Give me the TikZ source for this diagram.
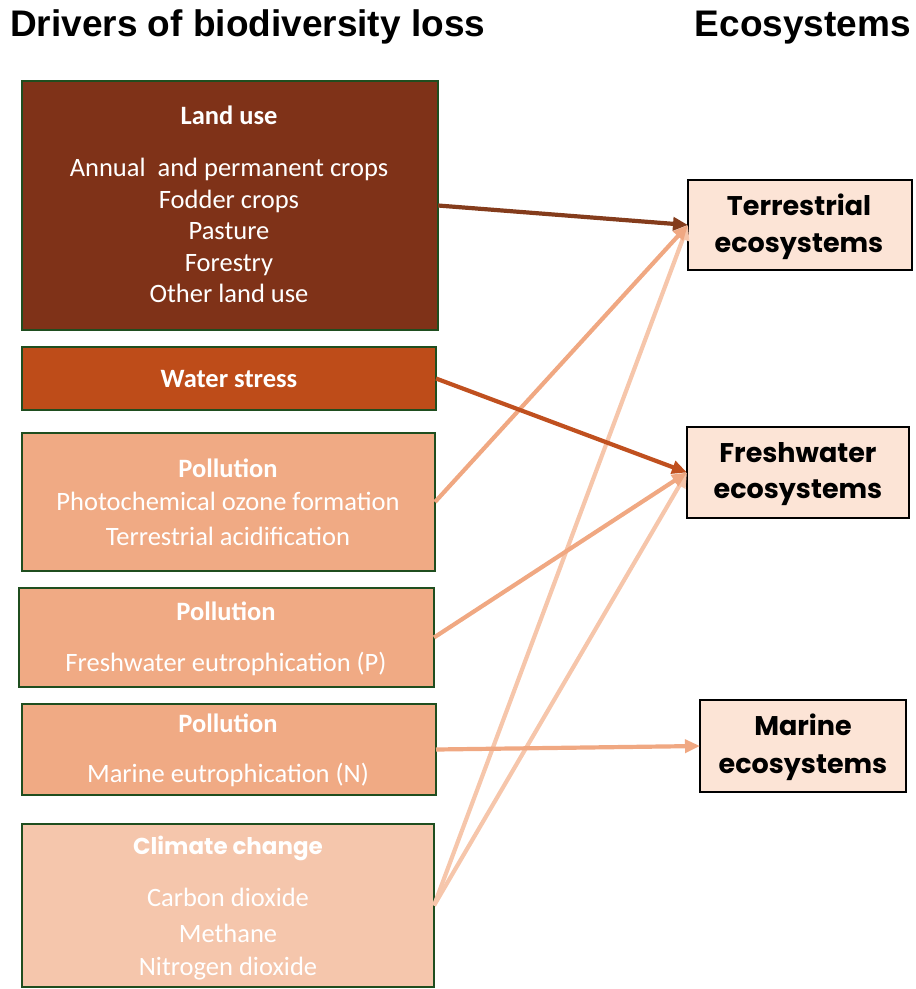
\documentclass[tikz,border=0pt]{standalone}
\usepackage{fontspec}
\setmainfont{Carlito}
\newfontfamily\headfont{Liberation Sans}
\newfontfamily\ecofont{Poppins}
\usetikzlibrary{arrows.meta}

\definecolor{landfill}{HTML}{7F3218}
\definecolor{waterfill}{HTML}{BE4C19}
\definecolor{pollfill}{HTML}{F0AA84}
\definecolor{climfill}{HTML}{F5C6AC}
\definecolor{ecofill}{HTML}{FCE4D6}
\definecolor{boxline}{HTML}{1F4E1F}
\definecolor{landarrow}{HTML}{843C1C}
\definecolor{waterarrow}{HTML}{C0501F}
\definecolor{pollarrow}{HTML}{F0A882}
\definecolor{climarrow}{HTML}{F6C6AB}

\begin{document}
\begin{tikzpicture}[x=1pt,y=-1pt,
  driver/.style={draw=boxline, line width=2.2pt, anchor=north west,
    inner sep=0pt, outer sep=0pt},
  ecobox/.style={draw=black, line width=2pt, fill=ecofill, anchor=north west,
    inner sep=0pt, outer sep=0pt},
  wtxt/.style={text=white, font=\fontsize{26.5}{31}\selectfont, anchor=base, inner sep=0pt},
  wbold/.style={wtxt, font=\fontsize{26.5}{31}\selectfont\bfseries},
  etxt/.style={font=\ecofont\bfseries\fontsize{27}{32}\selectfont, anchor=base, inner sep=0pt},
  title/.style={font=\headfont\bfseries\fontsize{37}{42}\selectfont, inner sep=0pt},
  link/.style={line width=4.2pt, -{Triangle[length=15pt,width=13pt]}}
]
\useasboundingbox (0,0) rectangle (916,989);

% headings
\node[title, anchor=base west] (hdrivers) at (10,36) {Drivers of biodiversity loss};
\node[title, anchor=base east] (hecos) at (911,36) {Ecosystems};

% driver boxes
\node[driver, fill=landfill,  minimum width=416pt, minimum height=249pt] (land)  at (22,81)  {};
\node[driver, fill=waterfill, minimum width=414pt, minimum height=63pt]  (water) at (22,347) {};
\node[driver, fill=pollfill,  minimum width=413pt, minimum height=138pt] (poll1) at (22,433) {};
\node[driver, fill=pollfill,  minimum width=415pt, minimum height=99pt]  (poll2) at (19,588) {};
\node[driver, fill=pollfill,  minimum width=414pt, minimum height=91pt]  (poll3) at (22,704) {};
\node[driver, fill=climfill,  minimum width=412pt, minimum height=163pt] (clim)  at (22,824) {};

% driver texts
\node[wbold] (landh) at (229,124) {Land use};
\node[wtxt]  (land1) at (229,176) {Annual\ \ and permanent crops};
\node[wtxt]  (land2) at (229,208) {Fodder crops};
\node[wtxt]  (land3) at (229,239) {Pasture};
\node[wtxt]  (land4) at (229,271) {Forestry};
\node[wtxt]  (land5) at (229,302) {Other land use};

\node[wbold] (waterh) at (229,387) {Water stress};

\node[wbold] (poll1h) at (228,477) {Pollution};
\node[wtxt]  (poll1a) at (228,510) {Photochemical ozone formation};
\node[wtxt]  (poll1b) at (228,545) {Terrestrial acidification};

\node[wbold] (poll2h) at (226,620) {Pollution};
\node[wtxt]  (poll2a) at (226,671) {Freshwater eutrophication (P)};

\node[wbold] (poll3h) at (228,732) {Pollution};
\node[wtxt]  (poll3a) at (228,782) {Marine eutrophication (N)};

\node[wtxt, font=\ecofont\bfseries\fontsize{23}{28}\selectfont] (climh) at (228,854) {Climate change};
\node[wtxt]  (clim1) at (228,906) {Carbon dioxide};
\node[wtxt]  (clim2) at (228,942) {Methane};
\node[wtxt]  (clim3) at (228,975) {Nitrogen dioxide};

% ecosystem boxes
\node[ecobox, minimum width=224pt, minimum height=90pt] (terr)  at (688,180) {};
\node[ecobox, minimum width=222pt, minimum height=91pt] (fresh) at (687,427) {};
\node[ecobox, minimum width=206pt, minimum height=92pt] (marine) at (700,700) {};

\node[etxt] (terr1)  at (799,215) {Terrestrial};
\node[etxt] (terr2)  at (799,252) {ecosystems};
\node[etxt] (fresh1) at (798,462) {Freshwater};
\node[etxt] (fresh2) at (798,498) {ecosystems};
\node[etxt] (mar1)   at (803,735) {Marine};
\node[etxt] (mar2)   at (803,773) {ecosystems};

% connectors
\draw[link, climarrow]  (clim.east)  -- (terr.west);
\draw[link, climarrow]  (clim.east)  -- (fresh.west);
\draw[link, pollarrow]  (poll1.east) -- (terr.west);
\draw[link, pollarrow]  (poll2.east) -- (fresh.west);
\draw[link, pollarrow]  (poll3.east) -- (marine.west);
\draw[link, waterarrow] (water.east) -- (fresh.west);
\draw[link, landarrow]  (land.east)  -- (terr.west);
\end{tikzpicture}
\end{document}
